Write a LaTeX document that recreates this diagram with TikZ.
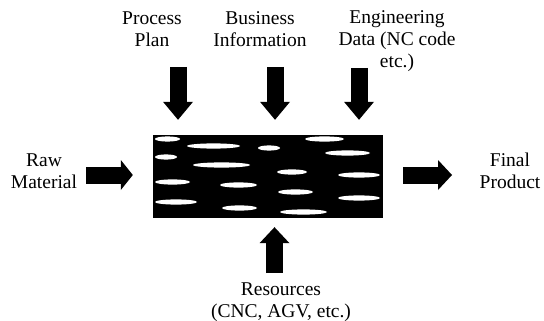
\documentclass[tikz,border=0pt]{standalone}
\usepackage{fontspec}
\setmainfont{Liberation Serif}
\usetikzlibrary{arrows.meta}
\tikzset{
  blk/.style={line width=17pt,-{Triangle[width=30pt,length=#1,line width=0pt]}},
  blk/.default=18pt,
  lbl/.style={align=center,anchor=base,inner sep=0pt,font=\fontsize{19.5}{22}\selectfont},
}
\begin{document}
\begin{tikzpicture}[x=1pt,y=-1pt]
\useasboundingbox (0,0) rectangle (544,321);

\node[fill=black,minimum width=230pt,minimum height=83pt,inner sep=0pt] (proc) at (268,176.5) {};
\begin{scope}
\clip (154,136) rectangle (382,217);
\foreach \a/\b/\y in {155/180/139, 187/240/146, 305/344/139, 258/280/148, 325/370/153,
  155/177/157, 193/250/165, 277/307/172, 338/380/175, 155/190/182, 220/257/185,
  278/313/192, 338/380/198, 155/197/202, 222/257/208, 280/327/212}
  \fill[white] ({(\a+\b)/2},\y) ellipse [x radius={(\b-\a)/2*1pt}, y radius=2.6pt];
\end{scope}

\node[lbl] (plan) at (152,47) {Process\\Plan};
\node[lbl] (info) at (260,47) {Business\\Information};
\node[lbl] (data) at (397,68) {Engineering\\Data (NC code\\etc.)};
\node[lbl] (raw) at (44,188) {Raw\\Material};
\node[lbl] (prod) at (510,188) {Final\\Product};
\node[lbl] (res) at (281,317) {Resources\\(CNC, AGV, etc.)};

\coordinate (planT) at (178,67);
\coordinate (infoT) at (275,67);
\coordinate (dataT) at (359,68);
\coordinate (rawT) at (86,175);
\coordinate (prodH) at (452,175);
\coordinate (resT) at (274.5,273);

\draw[blk,shorten >=15pt] (planT) -- (planT |- proc.north);
\draw[blk,shorten >=15pt] (infoT) -- (infoT |- proc.north);
\draw[blk,shorten >=15pt] (dataT) -- (dataT |- proc.north);
\draw[blk=12pt,shorten >=20pt] (rawT) -- (rawT -| proc.west);
\draw[blk=14pt,shorten <=20pt] (prodH -| proc.east) -- (prodH);
\draw[blk=16pt,shorten >=9pt] (resT) -- (resT |- proc.south);
\end{tikzpicture}
\end{document}
